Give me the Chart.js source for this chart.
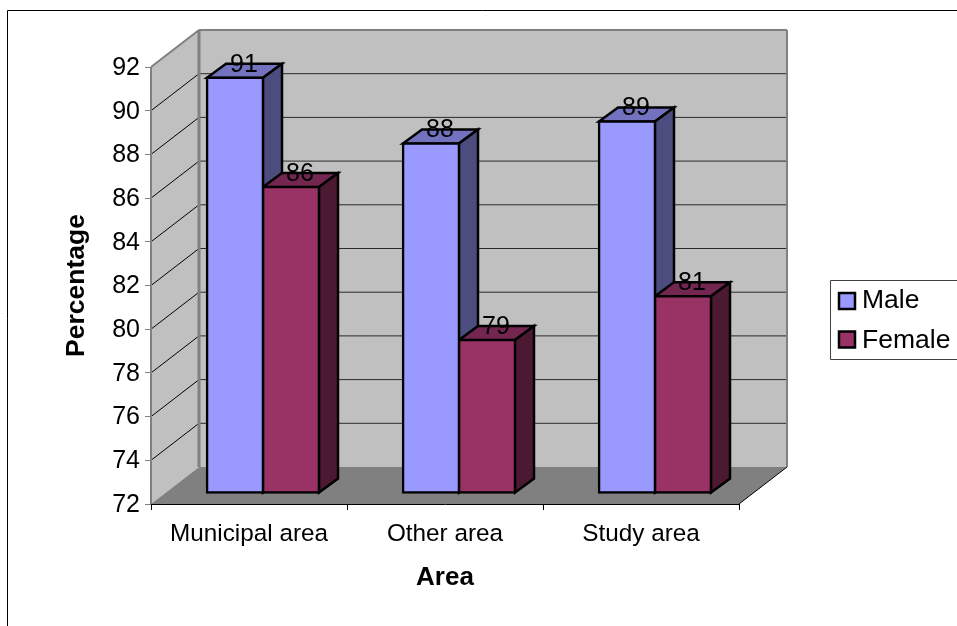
<!DOCTYPE html>
<html>
<head>
<meta charset="utf-8">
<title>Percentage by area</title>
<script src="https://cdn.jsdelivr.net/npm/chart.js@4"></script>
<style>
  html, body { margin: 0; padding: 0; background: #fff; }
  #box { width: 957px; height: 626px; }
</style>
</head>
<body>
<div id="box"><canvas id="myChart" width="957" height="626"></canvas></div>
<script>
const categories = ['Municipal area', 'Other area', 'Study area'];
const maleValues = [91, 88, 89];
const femaleValues = [86, 79, 81];
const seriesColors = ['#9999FF', '#993366'];
const topColors = ['#7272BF', '#732650'];
const sideColors = ['#4C4C7F', '#4C1933'];

// depth of the floor and of the bars, in pixels
const wall = { dx: 48, dy: -37 };
const barDepth = { dx: 19, dy: -14 };
const barShift = { dx: 14, dy: -11 };
const edge = 2.5;

function poly(ctx, pts, fill, stroke, width) {
  ctx.beginPath();
  pts.forEach((p, i) => i ? ctx.lineTo(p[0], p[1]) : ctx.moveTo(p[0], p[1]));
  ctx.closePath();
  if (fill) { ctx.fillStyle = fill; ctx.fill(); }
  if (stroke) { ctx.strokeStyle = stroke; ctx.lineWidth = width; ctx.lineJoin = 'miter'; ctx.stroke(); }
}

function line(ctx, x1, y1, x2, y2, color, width) {
  ctx.beginPath();
  ctx.moveTo(x1, y1);
  ctx.lineTo(x2, y2);
  ctx.strokeStyle = color;
  ctx.lineWidth = width;
  ctx.stroke();
}

const box3d = {
  id: 'box3d',
  // outer frame, walls, floor and grid lines
  beforeDraw(chart) {
    const { ctx, chartArea: a, scales } = chart;
    const bx = a.left + wall.dx, by = wall.dy;
    ctx.save();
    line(ctx, 7.5, 10.5, 957, 10.5, '#000', 1);
    line(ctx, 7.5, 10.5, 7.5, 626, '#000', 1);

    poly(ctx, [[bx, a.top + by], [a.right + wall.dx, a.top + by], [a.right + wall.dx, a.bottom + by], [bx, a.bottom + by]], '#C0C0C0');
    poly(ctx, [[a.left, a.top], [bx, a.top + by], [bx, a.bottom + by], [a.left, a.bottom]], '#C0C0C0');
    poly(ctx, [[a.left, a.bottom], [a.right, a.bottom], [a.right + wall.dx, a.bottom + by], [bx, a.bottom + by]], '#808080');

    scales.y.ticks.forEach(t => {
      const y = scales.y.getPixelForValue(t.value);
      if (t.value === scales.y.min || t.value === scales.y.max) return;
      line(ctx, a.left, y, bx, y + by, '#000', 1);
      line(ctx, bx, y + by, a.right + wall.dx, y + by, '#2a2a2a', 1);
    });

    line(ctx, a.left, a.bottom, a.left, a.top, '#808080', 2);
    line(ctx, a.left, a.top, bx, a.top + by, '#808080', 2);
    line(ctx, bx, a.top + by, a.right + wall.dx, a.top + by, '#808080', 2);
    line(ctx, a.right + wall.dx, a.top + by, a.right + wall.dx, a.bottom + by, '#808080', 2);
    line(ctx, bx, a.top + by, bx, a.bottom + by, '#808080', 3);
    line(ctx, a.right, a.bottom, a.right + wall.dx, a.bottom + by, '#000', 1);
    ctx.restore();
  },
  // top and side faces go under the fronts that the bar elements draw
  beforeDatasetsDraw(chart) {
    const { ctx } = chart;
    ctx.save();
    ctx.translate(barShift.dx, barShift.dy);
    chart.data.datasets.forEach((ds, i) => {
      chart.getDatasetMeta(i).data.forEach(el => {
        const l = el.x - el.width / 2, r = el.x + el.width / 2;
        const d = barDepth;
        poly(ctx, [[l, el.y], [r, el.y], [r + d.dx, el.y + d.dy], [l + d.dx, el.y + d.dy]], topColors[i], '#000', edge);
        poly(ctx, [[r, el.y], [r + d.dx, el.y + d.dy], [r + d.dx, el.base + d.dy], [r, el.base]], sideColors[i], '#000', edge);
      });
    });
  },
  afterDatasetsDraw(chart) {
    const { ctx } = chart;
    ctx.font = '25px "Liberation Sans"';
    ctx.fillStyle = '#000';
    ctx.textAlign = 'center';
    ctx.textBaseline = 'middle';
    chart.data.datasets.forEach((ds, i) => {
      chart.getDatasetMeta(i).data.forEach((el, j) => {
        ctx.fillText(ds.data[j], el.x + 9, el.y - 13);
      });
    });
    ctx.restore();
  },
  // legend box on the right of the plot
  afterDraw(chart) {
    const { ctx } = chart;
    ctx.save();
    line(ctx, 830.5, 280.5, 957, 280.5, '#404040', 1);
    line(ctx, 830.5, 280.5, 830.5, 359.5, '#404040', 1);
    line(ctx, 830.5, 359.5, 957, 359.5, '#404040', 1);
    ctx.font = '26.5px "Liberation Sans"';
    ctx.textAlign = 'left';
    ctx.textBaseline = 'middle';
    chart.data.datasets.forEach((ds, i) => {
      const y = 293 + i * 38.5;
      ctx.fillStyle = ds.backgroundColor;
      ctx.fillRect(839, y, 16, 16);
      ctx.strokeStyle = '#000';
      ctx.lineWidth = edge;
      ctx.strokeRect(839, y, 16, 16);
      ctx.fillStyle = '#000';
      ctx.fillText(ds.label, 862, y + 8 + i);
    });
    ctx.restore();
  }
};

const ctx = document.getElementById('myChart');
const chart = new Chart(ctx, {
  type: 'bar',
  data: {
    labels: categories,
    datasets: [
      { label: 'Male', data: maleValues, backgroundColor: seriesColors[0] },
      { label: 'Female', data: femaleValues, backgroundColor: seriesColors[1] }
    ]
  },
  plugins: [box3d],
  options: {
    responsive: false,
    animation: false,
    devicePixelRatio: 1,
    layout: { padding: { left: 57, right: 218, top: 67, bottom: 29 } },
    datasets: {
      bar: {
        base: 72,
        clip: false,
        categoryPercentage: 112 / 196,
        barPercentage: 1,
        borderColor: '#000',
        borderWidth: edge,
        borderSkipped: false,
        inflateAmount: edge / 2
      }
    },
    plugins: {
      tooltip: { enabled: false },
      legend: { display: false }
    },
    scales: {
      x: {
        afterFit(s) { s.height = 93; },
        grid: { drawOnChartArea: false, drawTicks: true, tickLength: 6, color: '#000' },
        border: { color: '#000', width: 1 },
        ticks: { color: '#000', padding: 10, maxRotation: 0, font: { family: '"Liberation Sans"', size: 24.3 } },
        title: { display: true, text: 'Area', color: '#000', font: { family: '"Liberation Sans"', size: 26, weight: 'bold' } }
      },
      y: {
        min: 72,
        max: 92,
        afterFit(s) { s.width = 94; },
        grid: { drawOnChartArea: false, drawTicks: true, tickLength: 6, color: '#808080' },
        border: { display: false },
        ticks: { stepSize: 2, color: '#000', padding: 5, labelOffset: 1, font: { family: '"Liberation Sans"', size: 25 } },
        title: { display: true, text: 'Percentage', color: '#000', font: { family: '"Liberation Sans"', size: 26.5, weight: 'bold' } }
      }
    }
  }
});
</script>
</body>
</html>
